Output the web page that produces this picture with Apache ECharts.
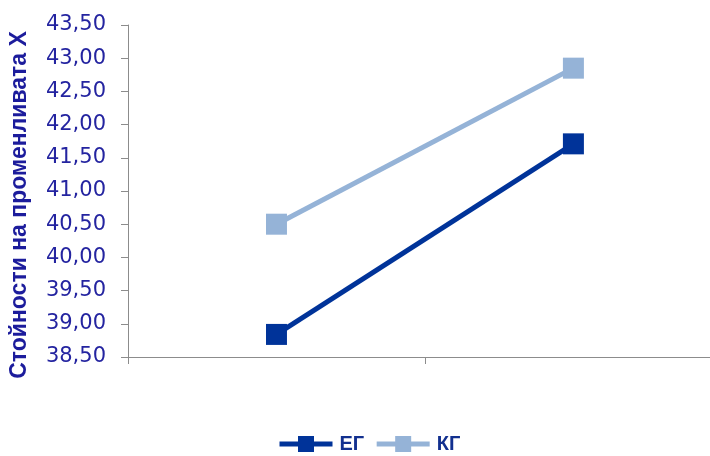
<!DOCTYPE html>
<html>
<head>
<meta charset="utf-8">
<style>
  html, body { margin: 0; padding: 0; background: #ffffff; }
  #chart { width: 710px; height: 456px; }
</style>
<script src="https://cdn.jsdelivr.net/npm/echarts@6/dist/echarts.min.js"></script>
</head>
<body>
<div id="chart"></div>
<script>
// Measurement points (x positions on the value axis)
const xPositions = [1, 2];
// Group means
const egValues = [38.84, 41.71];
const kgValues = [40.50, 42.85];
const seriesNames = ['ЕГ', 'КГ'];
const yAxisTitle = 'Стойности на променливата X';

const pair = (xs, ys) => xs.map((x, i) => [x, ys[i]]);
const comma = (v, d) => v.toFixed(d).replace('.', ',');

const chart = echarts.init(document.getElementById('chart'), null, { renderer: 'canvas' });

chart.setOption({
  backgroundColor: '#ffffff',
  animation: false,
  grid: { left: 128, top: 25, bottom: 99, right: 0, containLabel: false },
  xAxis: {
    type: 'value',
    min: 0.5,
    max: 2.46,
    interval: 1,
    axisLine: { show: true, lineStyle: { color: '#8c8c8c', width: 1 } },
    axisTick: { show: true, length: 7, lineStyle: { color: '#8c8c8c' } },
    splitLine: { show: false },
    axisLabel: {
      color: '#ffffff',
      fontFamily: 'DejaVu Sans',
      fontSize: 20,
      margin: 14,
      showMaxLabel: false,
      formatter: v => comma(v, 1)
    }
  },
  yAxis: {
    type: 'value',
    min: 38.5,
    max: 43.5,
    interval: 0.5,
    name: yAxisTitle,
    nameLocation: 'middle',
    nameGap: 97,
    nameTextStyle: {
      color: '#1c1c9c',
      fontFamily: 'Liberation Sans',
      fontWeight: 'bold',
      fontSize: 23,
      padding: [0, 0, 0, -28]
    },
    axisLine: { show: true, lineStyle: { color: '#8c8c8c', width: 1 } },
    axisTick: { show: true, length: 7, lineStyle: { color: '#8c8c8c' } },
    splitLine: { show: false },
    axisLabel: {
      color: '#2424a0',
      fontFamily: 'DejaVu Sans',
      fontSize: 21,
      margin: 22,
      formatter: v => comma(v, 2)
    }
  },
  legend: {
    top: 429,
    left: 272,
    itemWidth: 53,
    itemHeight: 20,
    itemGap: 10,
    lineStyle: { width: 5 },
    textStyle: {
      color: '#12308f',
      fontFamily: 'Liberation Sans',
      fontWeight: 'bold',
      fontSize: 20,
      padding: [0, 0, 0, 2]
    },
    data: seriesNames
  },
  series: [
    {
      name: seriesNames[0],
      type: 'line',
      data: pair(xPositions, egValues),
      symbol: 'rect',
      symbolSize: 21,
      lineStyle: { color: '#003399', width: 5 },
      itemStyle: { color: '#003399' }
    },
    {
      name: seriesNames[1],
      type: 'line',
      data: pair(xPositions, kgValues),
      symbol: 'rect',
      symbolSize: 21,
      lineStyle: { color: '#95b3d7', width: 5 },
      itemStyle: { color: '#95b3d7' }
    }
  ]
});
</script>
</body>
</html>
